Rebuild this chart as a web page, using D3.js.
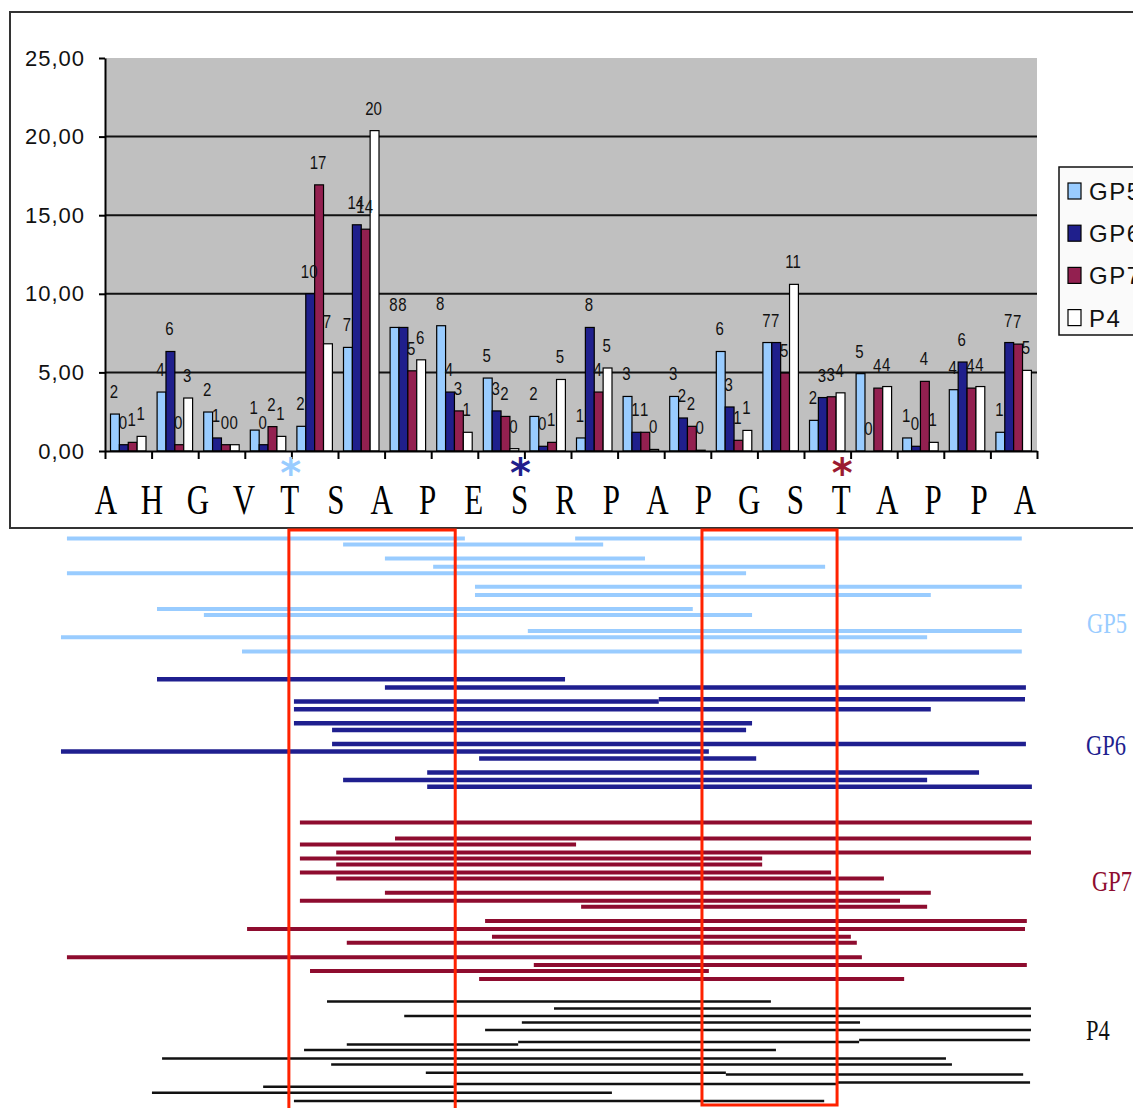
<!DOCTYPE html>
<html><head><meta charset="utf-8">
<script src="https://cdn.jsdelivr.net/npm/d3@7"></script>
<style>body{margin:0;background:#fff} svg{display:block}</style>
</head><body><svg id="c" width="1133" height="1108"></svg>
<script>
// ---------- DATA ----------
const residues = ["A","H","G","V","T","S","A","P","E","S","R","P","A","P","G","S","T","A","P","P","A"];
const positions = ["1","2","3","4","5","6","7","8","9","10","11","12","13","14","15","16","17","18","19","20"];
const seriesNames = ["GP5","GP6","GP7","P4"];
const gp5 = [2.35,3.75,2.48,1.33,1.57,6.59,7.86,7.97,4.64,2.2,0.83,3.47,3.47,6.33,6.9,1.95,4.92,0.83,3.9,1.19];
const gp6 = [0.4,6.33,0.83,0.4,10.0,14.39,7.86,3.75,2.55,0.3,7.86,1.19,2.1,2.8,6.9,3.4,0.0,0.3,5.66,6.9];
const gp7 = [0.55,0.4,0.4,1.55,16.93,14.11,5.1,2.55,2.2,0.55,3.75,1.19,1.57,0.68,4.96,3.45,4.0,4.43,4.0,6.8];
const p4  = [0.93,3.37,0.4,0.93,6.82,20.38,5.8,1.19,0.15,4.55,5.28,0.1,0.05,1.31,10.6,3.7,4.1,0.55,4.1,5.13];
const yTicks = [0,5,10,15,20,25];
const starred = [4, 9, 16]; // residue index of marked sites (T, S, T)

// peptides: [start residue, end residue, lane]
const gp5Peptides = [[-0.85,7.81,2.1],[10.21,19.93,2.1],[5.16,10.82,3.6],[6.07,11.73,7.1],[7.12,15.65,9.2],[-0.85,13.93,10.8],[8.03,19.93,14.2],[8.03,17.95,16.25],[1.11,12.77,19.75],[2.13,14.06,21.25],[9.18,19.93,25.25],[-0.98,17.87,26.8],[2.96,19.93,30.4]];
const gp6Peptides = [[1.11,9.99,37.3],[6.07,20.02,39.4],[4.09,12.03,42.9],[12.03,20.0,42.3],[4.09,17.95,44.8],[4.09,14.06,48.3],[4.92,13.93,50],[4.92,20.02,53.5],[-0.98,13.12,55.4],[8.12,14.15,57.1],[6.99,19.0,60.6],[5.16,17.87,62.5],[6.99,20.15,64.2]];
const gp7Peptides = [[4.22,20.15,73.1],[6.29,20.13,77.1],[4.22,10.23,78.6],[5.01,20.13,80.6],[4.22,14.28,82.1],[5.01,14.28,83.6],[4.22,15.78,85.6],[5.01,16.93,87.1],[6.07,17.95,90.7],[4.22,17.28,92.7],[10.34,17.87,94.2],[8.25,20.04,97.75],[3.07,20.0,99.75],[8.40,16.21,101.7],[5.24,16.34,103.2],[-0.85,16.45,106.8],[9.31,20.04,108.75],[4.44,13.12,110.25],[8.12,17.37,112.25]];
const p4Peptides = [[4.81,14.47,117.9],[9.75,20.13,119.6],[6.49,20.13,121.5],[9.05,16.41,123.1],[8.25,20.13,125],[5.24,8.97,128.6],[8.97,16.39,128],[16.39,20.11,127.5],[4.31,14.58,130],[1.22,18.28,132.1],[4.90,18.41,133.6],[6.96,13.49,135.7],[13.49,19.96,136.1],[3.42,7.57,139.2],[7.57,15.93,138.5],[15.93,20.11,138.1],[1.00,11.01,140.7],[4.09,15.63,142.75]];
const regions = [[3.98,7.60,150],[12.97,15.91,143.75]];

// ---------- STYLE ----------
const barColors = {GP5:"#99CCFF",GP6:"#1F1F8C",GP7:"#932050",P4:"#FFFFFF"};
const lineColors = {GP5:"#99CCFF",GP6:"#1F1F8F",GP7:"#8E0C2F",P4:"#111111"};
const lineWidths = {GP5:4,GP6:4.5,GP7:4,P4:2.5};
const starColors = ["#99CCFF","#1F1F8C","#9B1B30"];

const svg = d3.select("#c");
svg.append("rect").attr("width",1133).attr("height",1108).attr("fill","#fff");

// chart frame
svg.append("path").attr("d","M1140,12 H10 V528 H1140").attr("fill","none").attr("stroke","#333").attr("stroke-width",2);

const x0 = d3.scaleBand().domain(positions).range([105,1037]);
const x1 = d3.scaleBand().domain(seriesNames).range([5.5,41]);
const y = d3.scaleLinear().domain([0,25]).range([451,58]);
const xb = d3.scaleLinear().domain([0,20]).range([105,1037]);
const xr = d3.scaleLinear().domain([0,20]).range([106,1025]);
const lane = d3.scaleLinear().domain([0,145]).range([530,1110]);

// plot area
svg.append("rect").attr("x",105).attr("y",y(25)).attr("width",1037-105).attr("height",y(0)-y(25)).attr("fill","#C0C0C0");
svg.append("g").selectAll("line").data(yTicks.filter(d=>d>0&&d<25)).join("line")
  .attr("x1",105).attr("x2",1037).attr("y1",d=>y(d)).attr("y2",d=>y(d))
  .attr("stroke","#111").attr("stroke-width",2);

// bars
const valuesBySeries = {GP5:gp5,GP6:gp6,GP7:gp7,P4:p4};
const barData = [];
positions.forEach((p,i)=>seriesNames.forEach(s=>barData.push({p,s,v:valuesBySeries[s][i]})));
svg.append("g").selectAll("rect").data(barData).join("rect")
  .attr("x",d=>x0(d.p)+x1(d.s)).attr("width",x1.bandwidth())
  .attr("y",d=>y(d.v)).attr("height",d=>y(0)-y(d.v))
  .attr("fill",d=>barColors[d.s]).attr("stroke","#000").attr("stroke-width",1.2);

// value labels
svg.append("g").selectAll("text").data(barData).join("text")
  .attr("transform",d=>`translate(${x0(d.p)+x1(d.s)+x1.bandwidth()/2-1},${y(d.v)-16}) scale(1,1.25)`)
  .attr("text-anchor","middle").attr("font-family","Liberation Sans, Arial, sans-serif")
  .attr("font-size",15).attr("fill","#111").text(d=>Math.round(d.v));

// axes
const yAxis = svg.append("g").attr("transform","translate(105,0)")
  .call(d3.axisLeft(y).tickValues(yTicks).tickSize(6).tickSizeOuter(0).tickPadding(14)
    .tickFormat(d=>d3.format(".2f")(d).replace(".",",")));
yAxis.select(".domain").attr("stroke","#000").attr("stroke-width",2);
yAxis.selectAll(".tick line").attr("stroke","#000").attr("stroke-width",2);
yAxis.selectAll(".tick text").attr("font-family","Liberation Sans, Arial, sans-serif").attr("font-size",22)
  .attr("letter-spacing",1).attr("fill","#111");

const xAxis = svg.append("g").attr("transform","translate(0,451)")
  .call(d3.axisBottom(xb).tickValues(d3.range(21)).tickSize(8).tickSizeOuter(0).tickFormat(""));
xAxis.select(".domain").attr("stroke","#000").attr("stroke-width",2);
xAxis.selectAll(".tick line").attr("stroke","#000").attr("stroke-width",2);

// residue letters
svg.append("g").selectAll("text").data(residues).join("text")
  .attr("transform",(d,i)=>`translate(${xr(i)},514) scale(1,1.33)`)
  .attr("text-anchor","middle").attr("font-family","Liberation Serif, Times New Roman, serif")
  .attr("font-size",31).attr("fill","#000").text(d=>d);

// asterisks
svg.append("g").selectAll("text").data(starred).join("text")
  .attr("x",d=>xr(d)+1).attr("y",487)
  .attr("text-anchor","middle").attr("font-family","DejaVu Sans, sans-serif").attr("font-weight","bold")
  .attr("font-size",40).attr("fill",(d,i)=>starColors[i]).text("*");

// legend
const lg = svg.append("g");
lg.append("rect").attr("x",1059).attr("y",167).attr("width",120).attr("height",168)
  .attr("fill","#FAFAFA").attr("stroke","#111").attr("stroke-width",1.5);
seriesNames.forEach((s,i)=>{
  const by = 200 + i*42.2;
  lg.append("rect").attr("x",1068).attr("y",by-17).attr("width",13).attr("height",16)
    .attr("fill",barColors[s]).attr("stroke","#000").attr("stroke-width",1.2);
  lg.append("text").attr("x",1089).attr("y",by).attr("font-family","Liberation Sans, Arial, sans-serif")
    .attr("font-size",24).attr("letter-spacing",1.5).attr("fill","#111").text(s);
});

// peptide lines
const groups = [["GP5",gp5Peptides,25.75,21.35],["GP6",gp6Peptides,56.25,21.33],["GP7",gp7Peptides,90.25,21.46],["P4",p4Peptides,127.5,21.33]];
groups.forEach(([name,peps,labLane,labPos])=>{
  svg.append("g").selectAll("line").data(peps).join("line")
    .attr("x1",d=>xr(d[0])).attr("x2",d=>xr(d[1]))
    .attr("y1",d=>lane(d[2])).attr("y2",d=>lane(d[2]))
    .attr("stroke",lineColors[name]).attr("stroke-width",lineWidths[name]);
  svg.append("text").attr("transform",`translate(${xr(labPos)},${lane(labLane)}) scale(1,1.33)`)
    .attr("font-family","Liberation Serif, Times New Roman, serif").attr("font-size",22.5)
    .attr("fill",lineColors[name]).text(name);
});

// highlighted regions
svg.append("g").selectAll("path").data(regions).join("path")
  .attr("d",d=>`M${xr(d[0])},${lane(d[2])} V${lane(0)} H${xr(d[1])} V${lane(d[2])} ${d[2]<146?"Z":""}`)
  .attr("fill","none").attr("stroke","#FF2200").attr("stroke-width",3);
</script></body></html>
